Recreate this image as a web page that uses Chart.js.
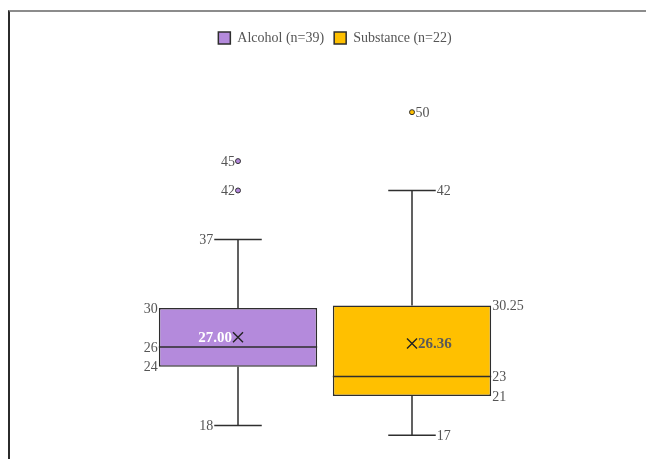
<!DOCTYPE html>
<html>
<head>
<meta charset="utf-8">
<script src="https://cdn.jsdelivr.net/npm/chart.js@4/dist/chart.umd.min.js"></script>
<style>
  html, body { margin: 0; padding: 0; background: #fff; }
  #wrap { position: relative; width: 646px; height: 459px; }
  #frame {
    position: absolute; left: 8px; top: 10px; right: 0; bottom: 0;
    border-top: 2px solid #8c8c8c; border-left: 2px solid #2b2b2b;
    pointer-events: none;
  }
  canvas { position: absolute; left: 0; top: 0; }
</style>
</head>
<body>
<div id="wrap">
  <canvas id="chart" width="646" height="459"></canvas>
  <div id="frame"></div>
</div>
<script>
// Groups and their five-number summaries
const categories = ['Alcohol', 'Substance'];
const seriesNames = ['Alcohol (n=39)', 'Substance (n=22)'];
const minVals = [18, 17];
const q1Vals = [24, 21];
const medianVals = [26, 23];
const q3Vals = [30, 30.25];
const maxVals = [37, 42];
const meanVals = [27.00, 26.36];
const outlierVals = [[42, 45], [50]];

const fillColors = ['#B48ADC', '#FFC000'];
const labelSides = ['left', 'right'];
const meanLabelColors = ['#ffffff', '#595959'];
const textColor = '#555555';
const lineColor = '#2e2e2e';
const fontFamily = '"Liberation Serif", "Times New Roman", serif';

function fmt(v) {
  return String(v);
}

// Whiskers, medians, means and outliers drawn on top of the floating bars
const boxPlotExtras = {
  id: 'boxPlotExtras',
  afterDatasetsDraw(chart) {
    const ctx = chart.ctx;
    const y = chart.scales.y;
    ctx.save();
    chart.data.datasets.forEach((ds, di) => {
      const meta = chart.getDatasetMeta(di);
      const bar = meta.data[di];
      if (!bar) return;
      const cx = bar.x;
      const half = bar.width / 2;
      const left = cx - half, right = cx + half;
      const capHalf = bar.width * 0.15;
      const side = labelSides[di];
      const yMin = y.getPixelForValue(minVals[di]);
      const yMax = y.getPixelForValue(maxVals[di]);
      const yQ1 = y.getPixelForValue(q1Vals[di]);
      const yQ3 = y.getPixelForValue(q3Vals[di]);
      const yMed = y.getPixelForValue(medianVals[di]);
      const yMean = y.getPixelForValue(meanVals[di]);

      ctx.strokeStyle = lineColor;
      ctx.lineWidth = 1.5;
      ctx.beginPath();
      // upper whisker
      ctx.moveTo(cx, yQ3); ctx.lineTo(cx, yMax);
      ctx.moveTo(cx - capHalf, yMax); ctx.lineTo(cx + capHalf, yMax);
      // lower whisker
      ctx.moveTo(cx, yQ1); ctx.lineTo(cx, yMin);
      ctx.moveTo(cx - capHalf, yMin); ctx.lineTo(cx + capHalf, yMin);
      // median
      ctx.moveTo(left, yMed); ctx.lineTo(right, yMed);
      ctx.stroke();

      // mean marker
      const m = 5;
      ctx.lineWidth = 1.4;
      ctx.strokeStyle = '#222';
      ctx.beginPath();
      ctx.moveTo(cx - m, yMean - m); ctx.lineTo(cx + m, yMean + m);
      ctx.moveTo(cx + m, yMean - m); ctx.lineTo(cx - m, yMean + m);
      ctx.stroke();

      // outliers
      outlierVals[di].forEach(v => {
        const py = y.getPixelForValue(v);
        ctx.beginPath();
        ctx.arc(cx, py, 2.5, 0, Math.PI * 2);
        ctx.fillStyle = fillColors[di];
        ctx.fill();
        ctx.lineWidth = 1;
        ctx.strokeStyle = '#333';
        ctx.stroke();
      });

      // value labels
      const dy = 1;
      ctx.font = '14px ' + fontFamily;
      ctx.fillStyle = textColor;
      ctx.textBaseline = 'middle';
      const L = side === 'left';
      ctx.textAlign = L ? 'right' : 'left';
      const capX = L ? cx - capHalf - 1 : cx + capHalf + 1;
      const edgeX = L ? left - 1 : right + 1;
      ctx.fillText(fmt(maxVals[di]), capX, yMax + dy);
      ctx.fillText(fmt(minVals[di]), capX, yMin + dy);
      ctx.fillText(fmt(q3Vals[di]), edgeX, yQ3 + dy);
      ctx.fillText(fmt(medianVals[di]), edgeX, yMed + dy);
      ctx.fillText(fmt(q1Vals[di]), edgeX, yQ1 + dy);
      outlierVals[di].forEach(v => {
        const py = y.getPixelForValue(v);
        ctx.fillText(fmt(v), L ? cx - 3 : cx + 3.5, py + dy);
      });
      ctx.font = 'bold 15px ' + fontFamily;
      ctx.fillStyle = meanLabelColors[di];
      ctx.fillText(meanVals[di].toFixed(2), L ? cx - m - 1 : cx + m + 1, yMean + dy);
    });
    ctx.restore();
  }
};

const datasets = seriesNames.map((name, di) => ({
  label: name,
  data: categories.map((c, ci) => ci === di ? [q1Vals[di], q3Vals[di]] : null),
  backgroundColor: fillColors[di],
  borderColor: lineColor,
  borderWidth: 1.5,
  borderSkipped: false,
  grouped: false,
  barPercentage: 0.91,
  categoryPercentage: 1.0
}));

new Chart(document.getElementById('chart'), {
  type: 'bar',
  data: { labels: categories, datasets },
  options: {
    responsive: false,
    animation: false,
    layout: { padding: { left: 151, right: 127, top: 21, bottom: 14 } },
    plugins: {
      legend: {
        position: 'top',
        labels: {
          font: { family: fontFamily, size: 14 },
          color: textColor,
          boxWidth: 12,
          boxHeight: 12,
          padding: 10
        }
      },
      tooltip: { enabled: false }
    },
    scales: {
      x: { display: false },
      y: {
        position: 'right',
        min: 16,
        max: 55.84,
        display: true,
        grid: { display: false },
        border: { display: false },
        ticks: { display: false },
        afterFit(scale) { scale.width = 20; }
      }
    }
  },
  plugins: [boxPlotExtras]
});
</script>
</body>
</html>
